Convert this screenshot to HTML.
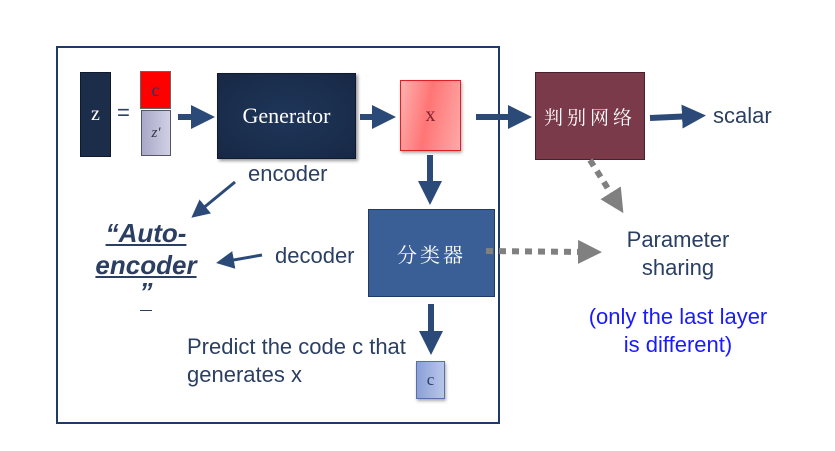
<!DOCTYPE html>
<html><head><meta charset="utf-8"><style>
body{margin:0;width:835px;height:451px;background:#fff;position:relative;overflow:hidden;font-family:"Liberation Sans","Noto Sans CJK SC",sans-serif;}
.a{position:absolute;}
.box{position:absolute;display:flex;align-items:center;justify-content:center;box-sizing:border-box;}
.serif{font-family:"Liberation Serif","Noto Serif CJK SC",serif;}
.t{position:absolute;color:#2b3f63;font-size:21px;white-space:nowrap;}
</style></head><body>
<div class="a" style="left:56px;top:46px;width:444px;height:378px;border:2px solid #1f3a66;box-sizing:border-box;"></div>
<div class="box serif" style="left:80px;top:72px;width:31px;height:85px;background:#1c2d4a;border:1px solid #0f1a2e;color:#fff;font-size:20px;">z</div>
<div class="t" style="left:117px;top:100px;font-size:22px;">=</div>
<div class="box serif" style="left:140px;top:71px;width:31px;height:38px;background:#f00;border:1px solid #666;color:#1f3a66;font-size:18px;">c</div>
<div class="box serif" style="left:141px;top:110px;width:30px;height:46px;background:linear-gradient(90deg,#a8a8c8,#d0d0e4);border:1px solid #556;color:#334;font-size:15px;font-style:italic;">z'</div>
<div class="box serif" style="left:217px;top:73px;width:139px;height:86px;background:radial-gradient(ellipse at center,#1f3659,#172845);border:1px solid #0f1a2e;color:#fff;font-size:22px;box-shadow:2px 2px 3px #999;">Generator</div>
<div class="box serif" style="left:400px;top:80px;width:61px;height:71px;background:linear-gradient(100deg,#ffb0b0,#ff7575 45%,#ffa8a8);border:1px solid #e02020;color:#7a2030;font-size:20px;box-shadow:1px 2px 3px #aaa;">x</div>
<div class="box serif" style="left:535px;top:72px;width:110px;height:88px;background:#7b3a4a;border:1px solid #4a2030;color:#fff;font-size:19px;letter-spacing:4px;">判别网络</div>
<div class="t" style="left:713px;top:103px;font-size:22px;">scalar</div>
<div class="t" style="left:248px;top:161px;font-size:22px;">encoder</div>
<div class="t" style="left:90px;top:217px;width:112px;text-align:center;font-size:26px;font-weight:bold;font-style:italic;line-height:32px;white-space:normal;"><span style="text-decoration:underline;">“Auto-<br>encoder</span><br><span style="display:block;line-height:22px;">”</span><span style="display:block;line-height:10px;"><span style="display:inline-block;width:12px;border-top:1px solid #2b3f63;vertical-align:middle;"></span></span></div>
<div class="t" style="left:275px;top:243px;font-size:22px;">decoder</div>
<div class="box serif" style="left:368px;top:209px;width:127px;height:88px;background:#3a5f96;border:1px solid #1f3a66;color:#fff;font-size:20px;letter-spacing:3px;">分类器</div>
<div class="t" style="left:608px;top:226px;width:140px;text-align:center;line-height:28px;font-size:22px;">Parameter<br>sharing</div>
<div class="t" style="left:570px;top:303px;width:216px;text-align:center;line-height:28px;font-size:22px;color:#1a1aff;">(only the last layer<br>is different)</div>
<div class="t" style="left:187px;top:333px;line-height:28px;font-size:22px;">Predict the code c that<br>generates x</div>
<div class="box serif" style="left:416px;top:361px;width:29px;height:38px;background:linear-gradient(90deg,#8ca0d8,#b8c6ea);border:1px solid #5870a8;color:#2b3f63;font-size:17px;box-shadow:1px 2px 3px #aaa;">c</div>
<svg class="a" style="left:0;top:0" width="835" height="451">
<defs>
<marker id="m" markerWidth="4" markerHeight="4" refX="2" refY="2" orient="auto"><path d="M0,0L4,2L0,4z" fill="#2b4a78"/></marker>
<marker id="g" markerWidth="4" markerHeight="4" refX="2" refY="2" orient="auto"><path d="M0,0L4,2L0,4z" fill="#808080"/></marker>
<marker id="s" markerWidth="6" markerHeight="6" refX="4" refY="3" orient="auto"><path d="M0,0L6,3L0,6z" fill="#2b4a78"/></marker>
</defs>
<g stroke="#2b4a78" stroke-width="6" fill="none">
<line x1="178" y1="117" x2="203" y2="117" marker-end="url(#m)"/>
<line x1="360" y1="117" x2="384" y2="117" marker-end="url(#m)"/>
<line x1="476" y1="117" x2="520" y2="117" marker-end="url(#m)"/>
<line x1="650" y1="118" x2="694" y2="116" marker-end="url(#m)"/>
<line x1="430" y1="155" x2="430" y2="193" marker-end="url(#m)"/>
<line x1="431" y1="304" x2="431" y2="343" marker-end="url(#m)"/>
</g>
<g stroke="#2b4a78" stroke-width="3" fill="none">
<line x1="235" y1="182" x2="196" y2="214" marker-end="url(#s)"/>
<line x1="262" y1="255" x2="222" y2="262" marker-end="url(#s)"/>
</g>
<g stroke="#808080" stroke-width="6" fill="none" stroke-dasharray="7,6">
<line x1="486" y1="251" x2="590" y2="252" marker-end="url(#g)"/>
<line x1="590" y1="160" x2="617" y2="203" marker-end="url(#g)"/>
</g>
</svg>
</body></html>
